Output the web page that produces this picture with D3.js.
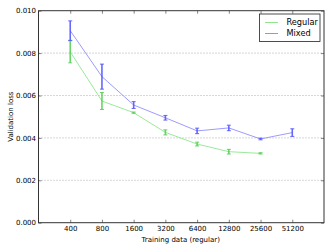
<!DOCTYPE html>
<html><head><meta charset="utf-8">
<script src="https://cdn.jsdelivr.net/npm/d3@7"></script>
<style>body{margin:0;background:#fff}svg{display:block}text{font-family:"DejaVu Sans",sans-serif}</style>
</head><body><svg id="c" width="332" height="249"></svg>
<script>
const sizes = [400, 800, 1600, 3200, 6400, 12800, 25600, 51200];
const regularSizes = [400, 800, 1600, 3200, 6400, 12800, 25600];
const regularMean = [0.00806, 0.00574, 0.00519, 0.00426, 0.00371, 0.00335, 0.00327];
const regularErr  = [0.00052, 0.00040, 0.00003, 0.00012, 0.00009, 0.00011, 0.00003];
const mixedMean = [0.00906, 0.00689, 0.00555, 0.00495, 0.00433, 0.00447, 0.00395, 0.00425];
const mixedErr  = [0.00046, 0.00059, 0.00016, 0.00011, 0.00013, 0.00013, 0.00004, 0.00018];
const yTicks = [0.000, 0.002, 0.004, 0.006, 0.008, 0.010];
const seriesNames = ["Regular", "Mixed"];

const svg = d3.select("#c");
const L = 38.5, R = 324, T = 10.7, B = 222.7;
const x = d3.scaleLog().base(2).domain([200, 102400]).range([L, R]);
const y = d3.scaleLinear().domain([0, 0.010]).range([B, T]);

// grid
svg.append("g").selectAll("line").data(yTicks.slice(1, -1)).join("line")
  .attr("x1", L).attr("x2", R).attr("y1", d => y(d)).attr("y2", d => y(d))
  .attr("stroke", "#999").attr("stroke-width", 0.8).attr("stroke-dasharray", "1,2");

const series = [
  {name: seriesNames[0], xs: regularSizes, m: regularMean, e: regularErr, line: "#8fe68f", bar: "#4fcc4f"},
  {name: seriesNames[1], xs: sizes, m: mixedMean, e: mixedErr, line: "#9090ff", bar: "#4d4dff"}
];

series.forEach(s => {
  const pts = s.xs.map((v, i) => ({x: v, m: s.m[i], e: s.e[i]}));
  svg.append("path").datum(pts)
    .attr("d", d3.line().x(d => x(d.x)).y(d => y(d.m)))
    .attr("fill", "none").attr("stroke", s.line).attr("stroke-width", 0.9);
  const g = svg.append("g").attr("stroke", s.bar).attr("stroke-opacity", 0.85);
  g.selectAll("line.v").data(pts).join("line").attr("class", "v")
    .attr("x1", d => x(d.x)).attr("x2", d => x(d.x))
    .attr("y1", d => y(d.m - d.e)).attr("y2", d => y(d.m + d.e)).attr("stroke-width", 1.6);
  g.selectAll("line.t").data(pts).join("line").attr("class", "t")
    .attr("x1", d => x(d.x) - 2).attr("x2", d => x(d.x) + 2)
    .attr("y1", d => y(d.m + d.e)).attr("y2", d => y(d.m + d.e)).attr("stroke-width", 1);
  g.selectAll("line.b").data(pts).join("line").attr("class", "b")
    .attr("x1", d => x(d.x) - 2).attr("x2", d => x(d.x) + 2)
    .attr("y1", d => y(d.m - d.e)).attr("y2", d => y(d.m - d.e)).attr("stroke-width", 1);
});

// axes with inward ticks on all sides
const fmt = d3.format(".3f");
const axB = svg.append("g").attr("transform", `translate(0,${B})`)
  .call(d3.axisBottom(x).tickValues(sizes).tickFormat(d3.format("d")).tickSize(-3).tickPadding(3.5));
const axT = svg.append("g").attr("transform", `translate(0,${T})`)
  .call(d3.axisTop(x).tickValues(sizes).tickFormat("").tickSize(-3));
const axL = svg.append("g").attr("transform", `translate(${L},0)`)
  .call(d3.axisLeft(y).tickValues(yTicks).tickFormat(fmt).tickSize(-3).tickPadding(2.5));
const axR = svg.append("g").attr("transform", `translate(${R},0)`)
  .call(d3.axisRight(y).tickValues(yTicks).tickFormat("").tickSize(-3));
[axB, axT, axL, axR].forEach(a => {
  a.select(".domain").remove();
  a.selectAll("line").attr("stroke", "#333").attr("stroke-width", 0.6);
  a.selectAll("text").attr("font-size", 7).attr("fill", "#000").attr("font-family", "DejaVu Sans");
});
svg.append("rect").attr("x", L).attr("y", T).attr("width", R - L).attr("height", B - T)
  .attr("fill", "none").attr("stroke", "#333").attr("stroke-width", 1);

svg.append("text").attr("x", (L + R) / 2 - 0.5).attr("y", 241.5).attr("text-anchor", "middle")
  .attr("font-size", 7).text("Training data (regular)");
svg.append("text").attr("transform", `translate(12.5,${(T + B) / 2}) rotate(-90)`)
  .attr("text-anchor", "middle").attr("font-size", 7).text("Validation loss");

// legend
const lg = svg.append("g");
lg.append("rect").attr("x", 259.5).attr("y", 14).attr("width", 60.5).attr("height", 27.5)
  .attr("fill", "#fff").attr("stroke", "#222").attr("stroke-width", 0.8);
series.forEach((s, i) => {
  const yy = 22.5 + i * 11;
  lg.append("line").attr("x1", 265).attr("x2", 278).attr("y1", yy).attr("y2", yy)
    .attr("stroke", s.line).attr("stroke-width", 1);
  lg.append("text").attr("x", 286.5).attr("y", yy + 2.8).attr("font-size", 8.2).text(s.name);
});
</script></body></html>
